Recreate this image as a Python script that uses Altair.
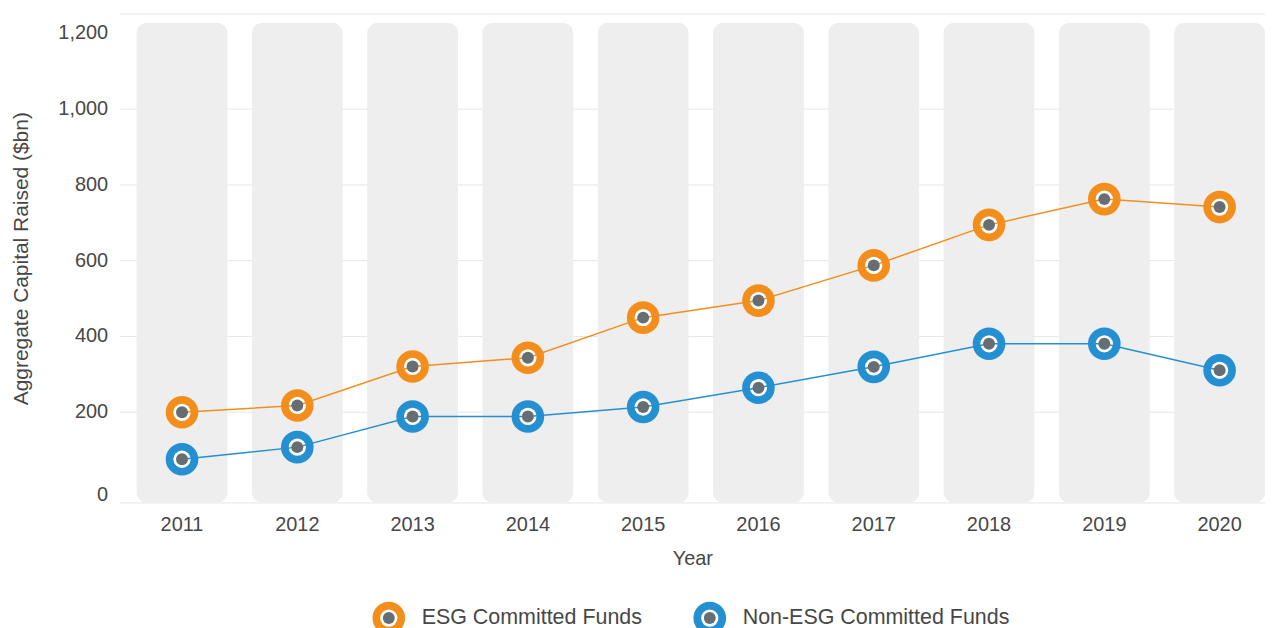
import altair as alt
import pandas as pd

years = ["2011", "2012", "2013", "2014", "2015", "2016", "2017", "2018", "2019", "2020"]
series_names = ["ESG Committed Funds", "Non-ESG Committed Funds"]
esg = [198, 216, 319, 342, 448, 493, 586, 693, 761, 740]
non_esg = [74, 106, 187, 187, 212, 263, 318, 379, 379, 309]
y_ticks = [0, 200, 400, 600, 800, 1000, 1200]

colors = ["#F38E1D", "#2490D2"]
TEXT = "#474747"
FONT = "Liberation Sans"

rows = []
for i, y in enumerate(years):
    rows.append({"year": y, "series": series_names[0], "value": esg[i]})
    rows.append({"year": y, "series": series_names[1], "value": non_esg[i]})
df = pd.DataFrame(rows)
years_df = pd.DataFrame({"year": years})
legend_df = pd.DataFrame({"series": series_names})
top_df = pd.DataFrame({"k": [1]})

W, H = 1149, 490

xscale = alt.Scale(type="band", domain=years, paddingInner=0.2125, paddingOuter=0.0736, align=1)
yscale = alt.Scale(domain=[-40, 1250], nice=False, zero=False)

xaxis = alt.Axis(
    title="Year", labelFontSize=20, labelColor=TEXT, labelFont=FONT, labelPadding=12,
    titleFontSize=20, titleColor=TEXT, titleFont=FONT, titleFontWeight="normal", titlePadding=14,
    ticks=False, domain=True, domainColor="#e6e6e6", grid=False, labelAngle=0,
)
yaxis = alt.Axis(
    title="Aggregate Capital Raised ($bn)", values=y_ticks, format=",.0f",
    labelFontSize=20, labelColor=TEXT, labelFont=FONT, labelPadding=12,
    labelOffset=alt.condition("datum.value == 0", alt.value(7), alt.value(0)),
    titleFontSize=21, titleColor=TEXT, titleFont=FONT, titleFontWeight="normal", titlePadding=26,
    ticks=False, domain=False, grid=True, gridColor="#e6e6e6",
    gridOpacity=alt.condition("datum.value == 0 || datum.value == 1200", alt.value(0), alt.value(1)),
)

color = alt.Color("series:N", scale=alt.Scale(domain=series_names, range=colors), legend=None)
x_enc = alt.X("year:O", scale=xscale, axis=xaxis)

bars = alt.Chart(years_df).mark_bar(color="#eeeeee", cornerRadius=10).encode(
    x=x_enc,
    y=alt.Y(datum=-40, scale=yscale, axis=yaxis),
    y2=alt.Y2(datum=1226),
)

top_rule = alt.Chart(top_df).mark_rule(color="#e6e6e6", strokeWidth=1).encode(
    y=alt.Y(datum=1250, scale=yscale)
)

base = alt.Chart(df).encode(
    x=x_enc,
    y=alt.Y("value:Q", scale=yscale),
)

OUTER, INNER, DOT = 1070, 300, 144

outer = base.mark_point(filled=True, shape="circle", size=OUTER, opacity=1, strokeWidth=0).encode(color=color)
inner = base.mark_point(filled=True, shape="circle", size=INNER, opacity=1, color="white", strokeWidth=0)
lines = base.mark_line(strokeWidth=1.5).encode(color=color, detail="series:N")
dots = base.mark_point(filled=True, shape="circle", size=DOT, opacity=1, color="#666d73", strokeWidth=0)

main = alt.layer(bars, top_rule, outer, inner, lines, dots)

lx = alt.X("series:N", scale=alt.Scale(type="point", domain=series_names, range=[270, 592], padding=0), axis=None)
ly = alt.value(606)
leg_base = alt.Chart(legend_df).encode(x=lx, y=ly)
leg_outer = leg_base.mark_point(filled=True, shape="circle", size=OUTER, opacity=1, strokeWidth=0).encode(color=color)
leg_inner = leg_base.mark_point(filled=True, shape="circle", size=INNER, opacity=1, color="white", strokeWidth=0)
leg_dot = leg_base.mark_point(filled=True, shape="circle", size=DOT, opacity=1, color="#666d73", strokeWidth=0)
leg_text = leg_base.mark_text(align="left", baseline="middle", dx=33, fontSize=21.5, font=FONT, color=TEXT).encode(
    text="series:N"
)
legend = alt.layer(leg_outer, leg_inner, leg_dot, leg_text)

chart = (
    alt.layer(main, legend)
    .resolve_scale(x="independent")
    .properties(
        width=W, height=H,
        autosize=alt.AutoSizeParams(type="none"),
        padding={"left": 112, "top": 5, "right": 0, "bottom": 125},
        background="white",
    )
    .configure_view(stroke=None)
)

chart.save("out.html", embed_options={"renderer": "svg", "actions": False})
